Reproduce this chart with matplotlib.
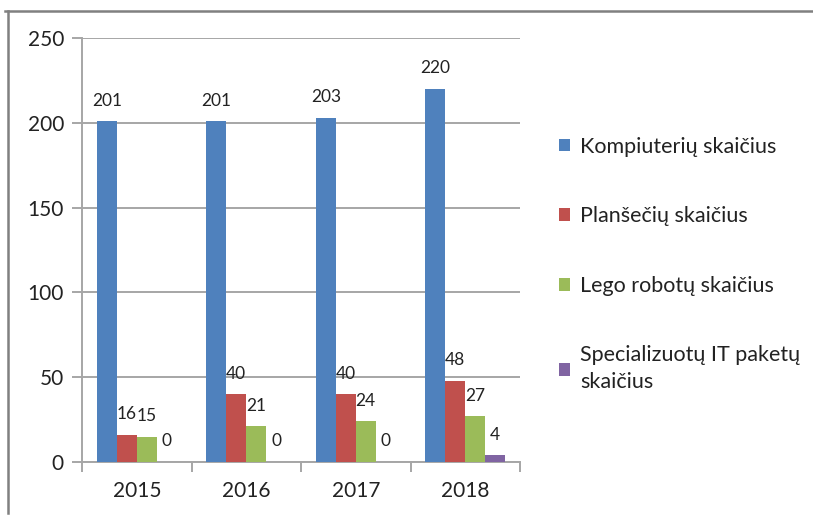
import matplotlib.pyplot as plt
import numpy as np
from matplotlib.lines import Line2D

plt.rcParams["font.family"] = ["Lato", "DejaVu Sans"]

years = ["2015", "2016", "2017", "2018"]
series_names = [
    "Kompiuterių skaičius",
    "Planšečių skaičius",
    "Lego robotų skaičius",
    "Specializuotų IT paketų\nskaičius",
]
kompiuteriai = [201, 201, 203, 220]
plansetes = [16, 40, 40, 48]
lego = [15, 21, 24, 27]
it_paketai = [0, 0, 0, 4]
colors = ["#4F81BD", "#C0504D", "#9BBB59", "#8064A2"]

W, H = 813, 515
fig = plt.figure(figsize=(W / 100, H / 100), dpi=100)
ax = fig.add_axes([82 / W, 53 / H, (520 - 82) / W, (462 - 38) / H])

x = np.arange(len(years))
bw = 1 / 5.5
all_series = [kompiuteriai, plansetes, lego, it_paketai]
handles = []
for i, (vals, col, name) in enumerate(zip(all_series, colors, series_names)):
    pos = x + (i - 1.5) * bw
    b = ax.bar(pos, vals, width=bw, color=col, label=name, zorder=3)
    handles.append(b)
    for px, v in zip(pos, vals):
        ax.annotate(str(v), (px, v), xytext=(0, 9), textcoords="offset points",
                    ha="center", va="bottom", fontsize=12.5, color="#222222")

ax.set_xlim(-0.5, len(years) - 0.5)
ax.set_ylim(0, 250)
ax.set_yticks(range(0, 251, 50))
ax.yaxis.grid(True, color="#A6A6A6", lw=1.4, zorder=0)
ax.set_axisbelow(True)

ax.set_xticks(x)
ax.set_xticklabels(years)
ax.set_xticks(np.arange(-0.5, len(years), 1), minor=True)
ax.tick_params(axis="x", which="major", length=0, pad=14, labelsize=15, labelcolor="#222222")
ax.tick_params(axis="x", which="minor", length=7, width=1.4, color="#A6A6A6")
ax.tick_params(axis="y", length=7, width=1.4, color="#A6A6A6", pad=6, labelsize=15,
               labelcolor="#222222")

for s in ["top", "right"]:
    ax.spines[s].set_visible(False)
for s in ["left", "bottom"]:
    ax.spines[s].set_color("#A6A6A6")
    ax.spines[s].set_linewidth(1.4)

leg = fig.legend(handles=handles, loc="upper left", bbox_to_anchor=(550 / W, 1 - 128 / H),
                 frameon=False, fontsize=15.5, handlelength=0.55, handleheight=0.55,
                 handletextpad=0.45, labelspacing=2.3, borderaxespad=0)
for t in leg.get_texts():
    t.set_color("#222222")
    t.set_multialignment("left")
    t.set_linespacing(1.45)

# outer chart border (top and left edges visible)
fig.add_artist(Line2D([5 / W, 1], [1 - 11 / H, 1 - 11 / H], color="#808080", lw=1.8,
                      transform=fig.transFigure))
fig.add_artist(Line2D([8 / W, 8 / W], [1 - 11 / H, 2 / H], color="#808080", lw=1.8,
                      transform=fig.transFigure))

fig.savefig("out.png", dpi=100)
